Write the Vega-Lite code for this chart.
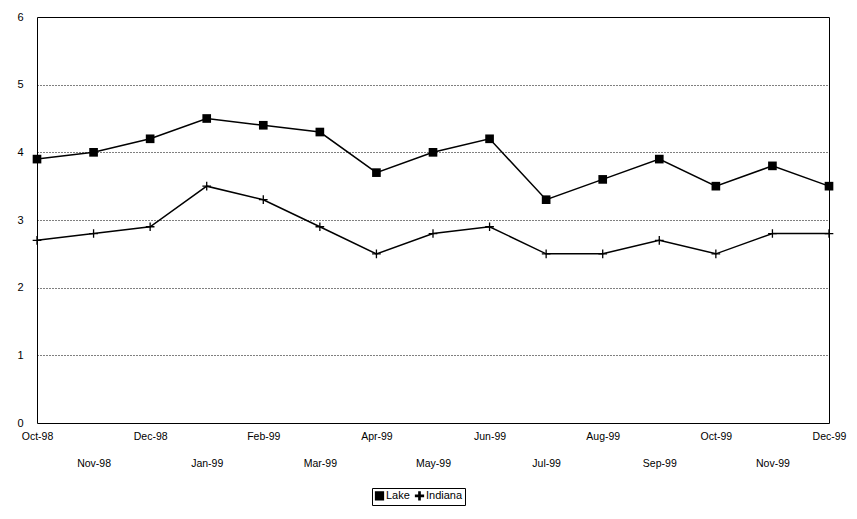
{
  "$schema": "https://vega.github.io/schema/vega-lite/v6.json",
  "width": 792,
  "height": 406,
  "autosize": "none",
  "padding": {"left": 37, "top": 17, "right": 28, "bottom": 96},
  "background": "white",
  "config": {
    "font": "Liberation Sans",
    "view": {"stroke": "black", "strokeWidth": 1},
    "axis": {"labelFont": "Liberation Sans", "labelFontSize": 11, "labelColor": "black", "domain": false, "ticks": false, "title": null}
  },
  "data": {"values": [
    {"m": "Oct-98", "s": "Lake", "v": 3.9}, {"m": "Nov-98", "s": "Lake", "v": 4.0}, {"m": "Dec-98", "s": "Lake", "v": 4.2},
    {"m": "Jan-99", "s": "Lake", "v": 4.5}, {"m": "Feb-99", "s": "Lake", "v": 4.4}, {"m": "Mar-99", "s": "Lake", "v": 4.3},
    {"m": "Apr-99", "s": "Lake", "v": 3.7}, {"m": "May-99", "s": "Lake", "v": 4.0}, {"m": "Jun-99", "s": "Lake", "v": 4.2},
    {"m": "Jul-99", "s": "Lake", "v": 3.3}, {"m": "Aug-99", "s": "Lake", "v": 3.6}, {"m": "Sep-99", "s": "Lake", "v": 3.9},
    {"m": "Oct-99", "s": "Lake", "v": 3.5}, {"m": "Nov-99", "s": "Lake", "v": 3.8}, {"m": "Dec-99", "s": "Lake", "v": 3.5},
    {"m": "Oct-98", "s": "Indiana", "v": 2.7}, {"m": "Nov-98", "s": "Indiana", "v": 2.8}, {"m": "Dec-98", "s": "Indiana", "v": 2.9},
    {"m": "Jan-99", "s": "Indiana", "v": 3.5}, {"m": "Feb-99", "s": "Indiana", "v": 3.3}, {"m": "Mar-99", "s": "Indiana", "v": 2.9},
    {"m": "Apr-99", "s": "Indiana", "v": 2.5}, {"m": "May-99", "s": "Indiana", "v": 2.8}, {"m": "Jun-99", "s": "Indiana", "v": 2.9},
    {"m": "Jul-99", "s": "Indiana", "v": 2.5}, {"m": "Aug-99", "s": "Indiana", "v": 2.5}, {"m": "Sep-99", "s": "Indiana", "v": 2.7},
    {"m": "Oct-99", "s": "Indiana", "v": 2.5}, {"m": "Nov-99", "s": "Indiana", "v": 2.8}, {"m": "Dec-99", "s": "Indiana", "v": 2.8}
  ]},
  "encoding": {
    "x": {
      "field": "m", "type": "ordinal", "sort": null,
      "scale": {"type": "point", "padding": 0},
      "axis": {
        "labelAngle": 0, "labelPadding": 8, "labelLineHeight": 27, "labelFontSize": 10.5,
        "labelExpr": "indexof(['Nov-98','Jan-99','Mar-99','May-99','Jul-99','Sep-99','Nov-99'], datum.value) >= 0 ? ['', datum.label] : datum.label"
      }
    },
    "y": {
      "field": "v", "type": "quantitative",
      "scale": {"domain": [0, 6]},
      "axis": {"values": [0, 1, 2, 3, 4, 5, 6], "labelPadding": 14, "grid": true, "gridColor": "black", "gridDash": [1, 2], "gridOpacity": 1,
        "gridWidth": {"expr": "datum.value == 0 || datum.value == 6 ? 0 : 1"}}
    },
    "color": {"field": "s", "type": "nominal", "sort": ["Lake", "Indiana"], "scale": {"range": ["black", "black"]}, "legend": null}
  },
  "layer": [
    {"mark": {"type": "line", "strokeWidth": 1.5}},
    {
      "mark": {"type": "point", "filled": true, "opacity": 1, "size": 75},
      "encoding": {
        "shape": {"field": "s", "type": "nominal", "sort": ["Lake", "Indiana"],
          "scale": {"domain": ["Lake", "Indiana"], "range": ["square", "M-0.15,-1H0.15V-0.15H1V0.15H0.15V1H-0.15V0.15H-1V-0.15H-0.15Z"]},
          "legend": {"orient": "none", "legendX": 335, "legendY": 471, "direction": "horizontal", "title": null, "strokeColor": "black", "padding": 2,
            "labelFont": "Liberation Sans", "labelFontSize": 11, "labelColor": "black", "symbolFillColor": "black", "symbolStrokeColor": "black", "symbolSize": 60, "columnPadding": 2, "labelOffset": 1}}
      }
    }
  ]
}
